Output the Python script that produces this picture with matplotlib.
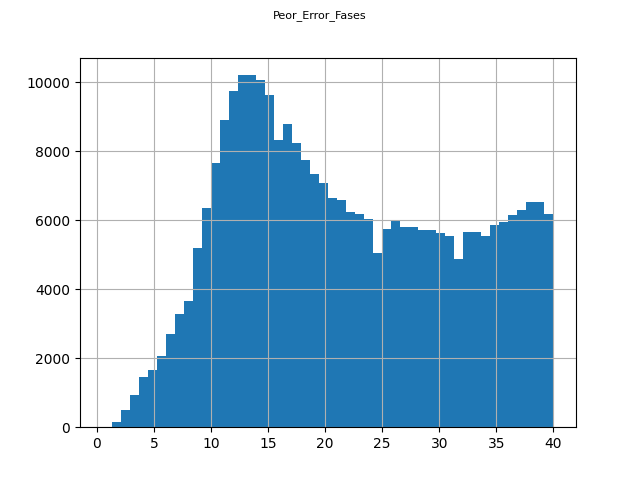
import numpy as np
import matplotlib
matplotlib.use("Agg")
import matplotlib.pyplot as plt

# histogram of Peor_Error_Fases, 50 bins between 0.5 and 40
bin_lo = 0.5
bin_hi = 40.0
counts = [10, 150, 500, 930, 1450, 1650, 2060, 2700, 3280, 3650,
          5190, 6350, 7650, 8900, 9740, 10200, 10200, 10060, 9620, 8320,
          8780, 8230, 7740, 7330, 7070, 6640, 6580, 6230, 6170, 6030,
          5040, 5740, 5970, 5800, 5800, 5710, 5710, 5620, 5540, 4870,
          5650, 5650, 5540, 5860, 5940, 6150, 6290, 6520, 6520, 6170]

edges = np.linspace(bin_lo, bin_hi, len(counts) + 1)
centers = (edges[:-1] + edges[1:]) / 2

fig, ax = plt.subplots(figsize=(6.4, 4.8), dpi=100)
ax.hist(centers, bins=edges, weights=counts, color="#1f77b4")
ax.grid(True)
fig.suptitle("Peor_Error_Fases", fontsize=8)
fig.savefig("out.png")
